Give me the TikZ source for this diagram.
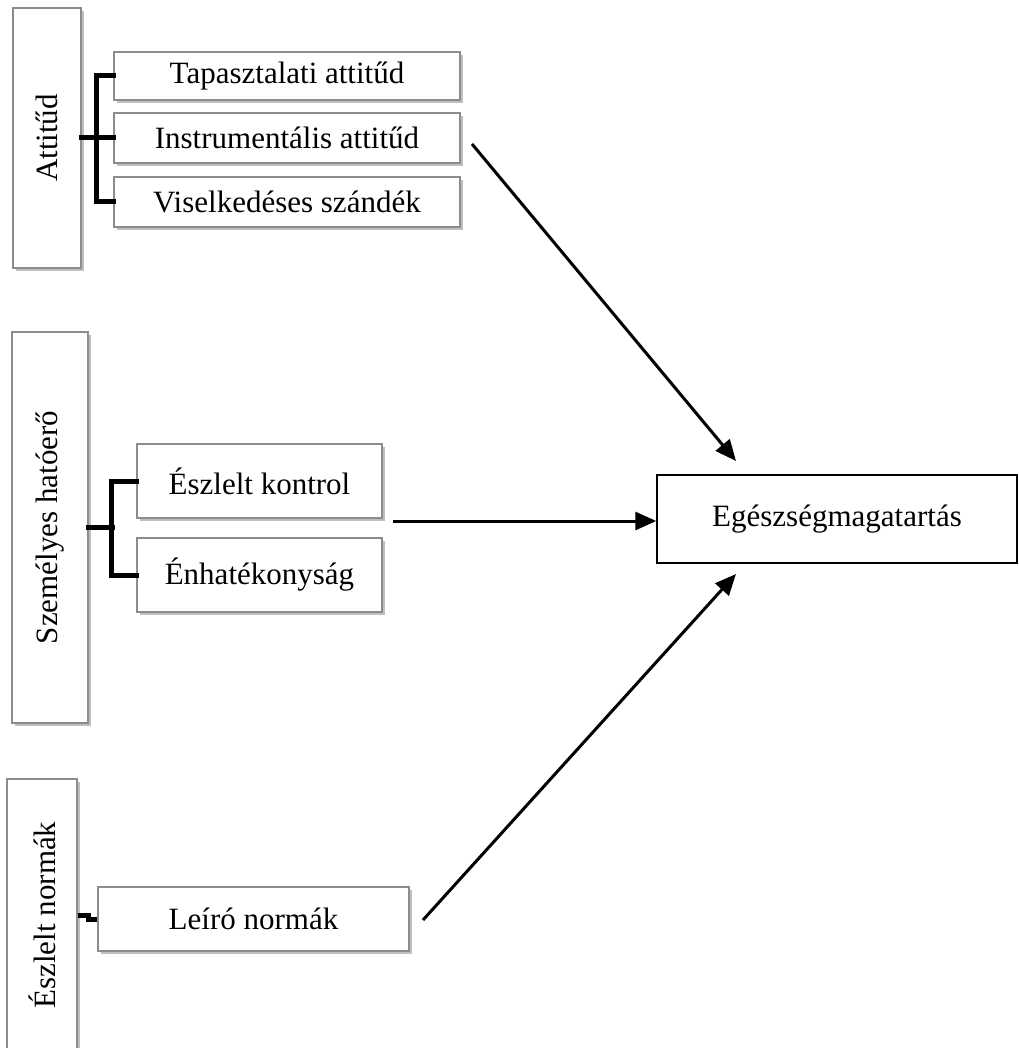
\documentclass[tikz,border=0pt]{standalone}
\usepackage{fontspec}
\setmainfont{Liberation Serif}
\usetikzlibrary{shadows,arrows.meta}
\definecolor{boxgray}{RGB}{140,140,140}
\begin{document}
\begin{tikzpicture}[x=1pt,y=-1pt,
  box/.style={draw=boxgray,line width=1.3pt,fill=white,rectangle,inner sep=0pt,
    font=\fontsize{31}{37}\selectfont,
    drop shadow={shadow xshift=2.5pt,shadow yshift=-3pt,fill=black,opacity=0.25}},
  mainbox/.style={draw=black,line width=1.5pt,fill=white,rectangle,inner sep=0pt,
    font=\fontsize{31}{37}\selectfont},
  brk/.style={line width=5pt,line cap=rect},
  arr/.style={line width=3pt,-{Triangle[length=21pt,width=18pt]}}]
\useasboundingbox (0,0) rectangle (1018,1048);
% left group boxes
\node[box,minimum width=260pt,minimum height=68pt,rotate=90] (att) at (47,138) {Attitűd};
\node[box,minimum width=346pt,minimum height=48pt] (tap) at (287,76) {Tapasztalati attitűd};
\node[box,minimum width=346pt,minimum height=50pt] (ins) at (287,138) {Instrumentális attitűd};
\node[box,minimum width=346pt,minimum height=50pt] (vis) at (287,202) {Viselkedéses szándék};
\node[box,minimum width=391pt,minimum height=76pt,rotate=90] (sz) at (50,527.5) {Személyes hatóerő};
\node[box,minimum width=245pt,minimum height=74pt] (esz) at (259.5,481) {Észlelt kontrol};
\node[box,minimum width=245pt,minimum height=74pt] (enh) at (259.5,575) {Énhatékonyság};
\node[box,minimum width=272pt,minimum height=70pt,rotate=90] (norm) at (42,915) {Észlelt normák};
\node[box,minimum width=311pt,minimum height=64pt] (lei) at (253.5,919) {Leíró normák};
\node[mainbox,minimum width=360pt,minimum height=88pt] (egs) at (837,519) {Egészségmagatartás};
% brackets
\draw[brk] (tap.west) -- ++(-17,0) |- (vis.west);
\draw[brk] (att.south) -- (ins.west);
\draw[brk] (esz.west) -- ++(-25,0) |- (enh.west);
\draw[brk] (sz.south) -- ++(24,0);
\draw[brk,line cap=butt] (norm.south) -- ++(11,0) |- (lei.west);
% arrows
\coordinate (a1s) at (472,144);
\coordinate (a1e) at (736,461);
\coordinate (a2s) at (393,521);
\coordinate (a3s) at (423,920);
\coordinate (a3e) at (736,574);
\draw[arr] (a1s) -- (a1e);
\draw[arr] (a2s) -- (egs.west |- a2s);
\draw[arr] (a3s) -- (a3e);
\end{tikzpicture}
\end{document}
